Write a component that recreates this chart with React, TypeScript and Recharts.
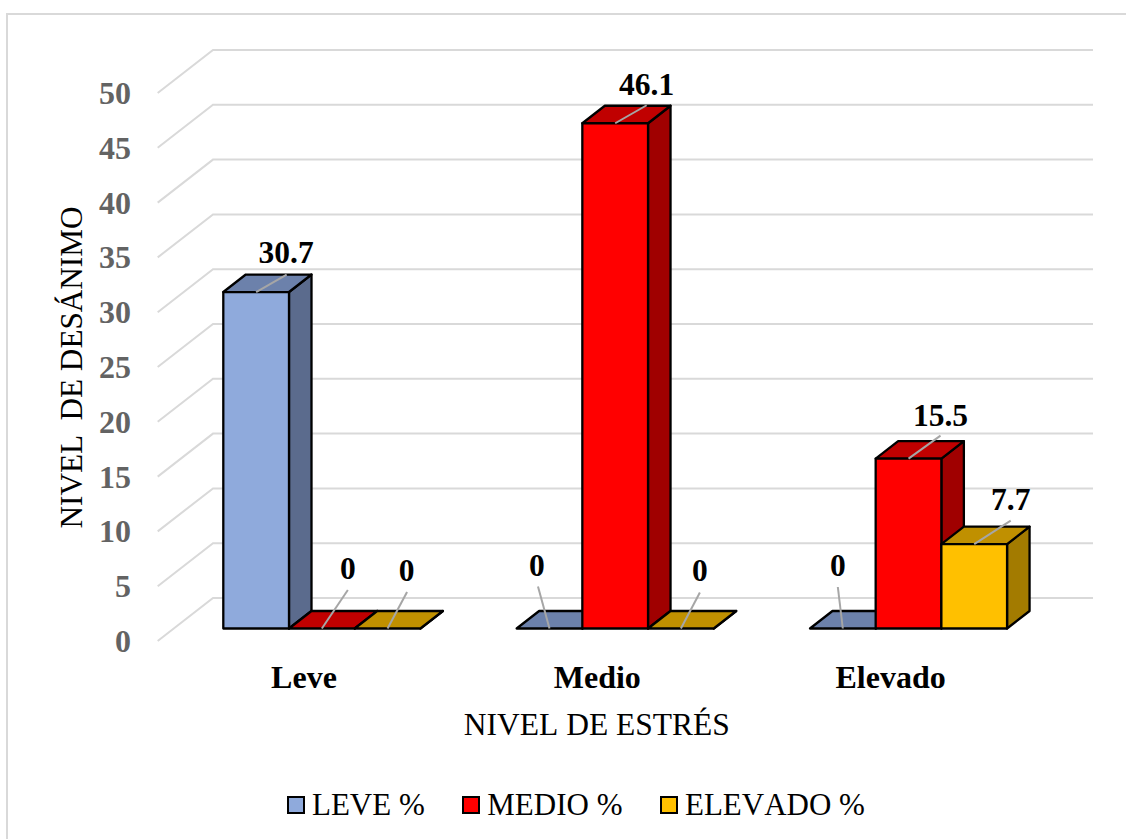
import React from 'react';
import { BarChart, Bar, XAxis, YAxis, CartesianGrid, Legend, Label } from 'recharts';

const categories = ['Leve', 'Medio', 'Elevado'];
const leveValues = [30.7, 0, 0];
const medioValues = [0, 46.1, 15.5];
const elevadoValues = [0, 0, 7.7];
const yTicks = [0, 5, 10, 15, 20, 25, 30, 35, 40, 45, 50];

const rows = categories.map((name, i) => ({
  name,
  leve: leveValues[i],
  medio: medioValues[i],
  elevado: elevadoValues[i],
}));

const SERIF = '"Liberation Serif", serif';
const DEPTH_X = 22.5;
const DEPTH_Y = 17.5;

// Callout placement per series and category, relative to the top centre of the bar face:
// [leader end dx, leader end dy, label centre dx, label baseline dy]
const leveCallouts = [
  [30.5, -17.5, 30, -29],
  [-11.5, -42, -12.5, -52.5],
  [-5, -41.5, -5, -52.5],
];
const medioCallouts = [
  [26, -38.5, 26, -49.5],
  [31.5, -18, 31.5, -28],
  [32, -23, 32, -33],
];
const elevadoCallouts = [
  [19.5, -36.5, 19, -48],
  [19, -36, 19, -47.5],
  [36.5, -23.5, 36.5, -34],
];

type Palette = { face: string; top: string; side: string };
const levePalette: Palette = { face: '#8FAADC', top: '#6C81AB', side: '#5B6B8D' };
const medioPalette: Palette = { face: '#FF0000', top: '#C00000', side: '#A00000' };
const elevadoPalette: Palette = { face: '#FFC000', top: '#C09000', side: '#A37B00' };

// Extruded bar: front face, top and right side, plus its value callout.
const boxShape = (palette: Palette, values: number[], callouts: number[][]) => (props: any) => {
  const { x, y, width, height, index } = props;
  const right = x + width;
  const bottom = y + height;
  const cx = x + width / 2;
  const [lx, ly, tx, ty] = callouts[index];
  const edge = { stroke: '#000', strokeWidth: 2.3, strokeLinejoin: 'round' as const };
  return (
    <g>
      <polygon
        points={`${right},${y} ${right + DEPTH_X},${y - DEPTH_Y} ${right + DEPTH_X},${bottom - DEPTH_Y} ${right},${bottom}`}
        fill={palette.side}
        {...edge}
      />
      <polygon
        points={`${x},${y} ${x + DEPTH_X},${y - DEPTH_Y} ${right + DEPTH_X},${y - DEPTH_Y} ${right},${y}`}
        fill={palette.top}
        {...edge}
      />
      <rect x={x} y={y} width={width} height={height} fill={palette.face} {...edge} />
      <line x1={cx} y1={y} x2={cx + lx} y2={y + ly} stroke="#A6A6A6" strokeWidth={2} />
      <text
        x={cx + tx}
        y={y + ty}
        textAnchor="middle"
        fontFamily={SERIF}
        fontWeight={700}
        fontSize={31.5}
        fill="#000"
      >
        {values[index]}
      </text>
    </g>
  );
};

// Gridline on the back wall with its diagonal run across the side wall.
const wallLine = (props: any) => {
  const { x1, x2, y1 } = props;
  return (
    <polyline
      key={`wall-${y1}`}
      points={`${x1 - 17.6},${y1 + 12.5} ${x1 + 37.7},${y1 - 30.5} ${x2 + 37.7},${y1 - 30.5}`}
      fill="none"
      stroke="#D9D9D9"
      strokeWidth={2}
    />
  );
};

const ValueTick = (props: any) => (
  <text
    x={131}
    y={props.y + 23.5}
    textAnchor="end"
    fontFamily={SERIF}
    fontWeight={700}
    fontSize={32}
    fill="#636363"
  >
    {props.payload.value}
  </text>
);

const CategoryTick = (props: any) => (
  <text
    x={props.x - 18}
    y={props.y + 60}
    dy={-9}
    textAnchor="middle"
    fontFamily={SERIF}
    fontWeight={700}
    fontSize={32}
    fill="#000"
  >
    {props.payload.value}
  </text>
);

const LegendRow = (props: any) => (
  <div
    style={{
      display: 'flex',
      alignItems: 'center',
      position: 'relative',
      top: -4,
      paddingLeft: 287,
      height: 60,
      fontFamily: SERIF,
      fontSize: 31,
      fontKerning: 'none',
      color: '#000',
      whiteSpace: 'nowrap',
    }}
  >
    {(props.payload || []).map((item: any) => (
      <div key={item.value} style={{ display: 'flex', alignItems: 'center', marginRight: 37.5 }}>
        <span
          style={{
            display: 'inline-block',
            boxSizing: 'border-box',
            width: 18,
            height: 18,
            background: item.color,
            border: '2px solid #000',
            marginRight: 7,
          }}
        />
        {item.value}
      </div>
    ))}
  </div>
);

export default function App() {
  return (
    <div style={{ position: 'absolute', left: 0, top: 0, width: 1126, height: 839, overflow: 'hidden', background: '#fff' }}>
      <div
        style={{
          position: 'absolute',
          left: 6,
          top: 13,
          width: 1130,
          height: 840,
          boxSizing: 'border-box',
          border: '2px solid #D9D9D9',
        }}
      />
      <BarChart
        width={1126}
        height={839}
        data={rows}
        barGap={0}
        barSize={65.7}
        margin={{ top: 80.5, right: 70.7, bottom: 0, left: 0 }}
        style={{ position: 'absolute', left: 0, top: 0 }}
      >
        <CartesianGrid vertical={false} horizontal={wallLine} />
        <XAxis dataKey="name" height={150.5} axisLine={false} tickLine={false} tick={CategoryTick} interval={0}>
          <Label
            content={(p: any) => (
              <text
                x={p.viewBox.x + p.viewBox.width / 2 - 18.5}
                y={735}
                textAnchor="middle"
                fontFamily={SERIF}
                fontSize={31.5}
                fill="#000"
                style={{ fontKerning: 'none' }}
              >
                NIVEL DE ESTRÉS
              </text>
            )}
          />
        </XAxis>
        <YAxis
          width={175.3}
          domain={[0, 50]}
          ticks={yTicks}
          interval={0}
          axisLine={false}
          tickLine={false}
          tick={ValueTick}
        >
          <Label
            content={() => (
              <text
                transform="translate(82 367.5) rotate(-90)"
                textAnchor="middle"
                fontFamily={SERIF}
                fontSize={31.2}
                fill="#000"
                style={{ whiteSpace: 'pre' }}
              >
                {'NIVEL  DE DESÁNIMO'}
              </text>
            )}
          />
        </YAxis>
        <Legend verticalAlign="bottom" height={60} content={LegendRow} itemSorter={null} />
        <Bar dataKey="leve" name="LEVE %" fill={levePalette.face} isAnimationActive={false} shape={boxShape(levePalette, leveValues, leveCallouts)} />
        <Bar dataKey="medio" name="MEDIO %" fill={medioPalette.face} isAnimationActive={false} shape={boxShape(medioPalette, medioValues, medioCallouts)} />
        <Bar dataKey="elevado" name="ELEVADO %" fill={elevadoPalette.face} isAnimationActive={false} shape={boxShape(elevadoPalette, elevadoValues, elevadoCallouts)} />
      </BarChart>
    </div>
  );
}
